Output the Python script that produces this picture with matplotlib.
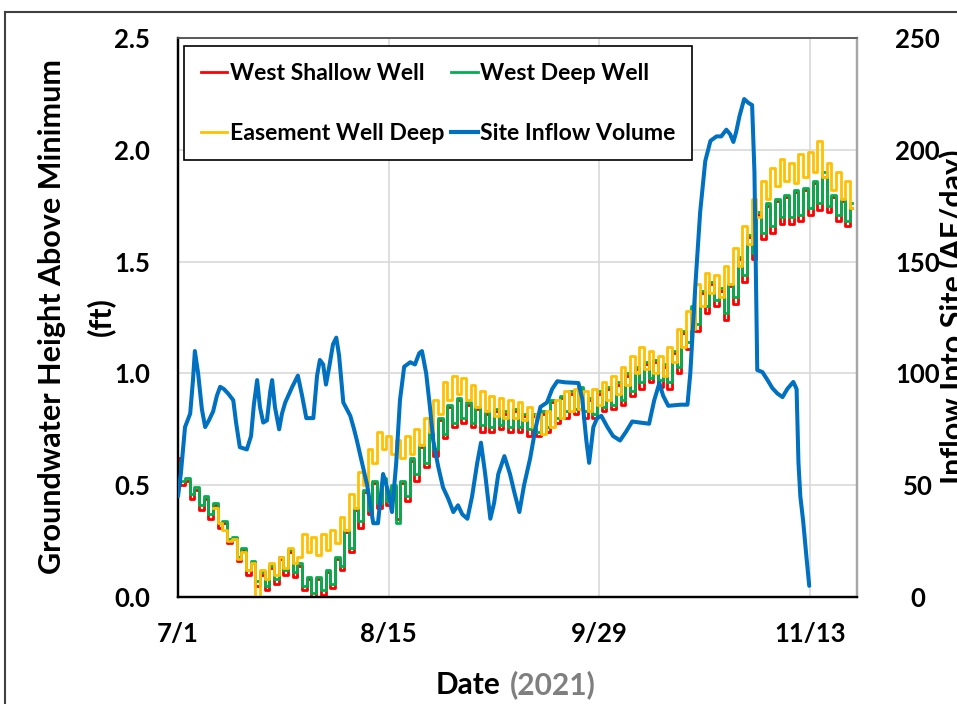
import numpy as np
import pandas as pd
import matplotlib
matplotlib.use("Agg")
import matplotlib.pyplot as plt
from matplotlib.lines import Line2D

plt.rcParams['font.family'] = ['Lato', 'DejaVu Sans']
plt.rcParams['font.weight'] = 'bold'

# ---------------- data ----------------
start_date = pd.Timestamp("2021-07-01")
tick_labels = ["7/1", "8/15", "9/29", "11/13"]
tick_days = [0, 45, 90, 135]

# West Deep Well (ft), daily from 7/1
west_deep = [
    0.60, 0.52, 0.53, 0.46, 0.49, 0.41, 0.45, 0.37, 0.42, 0.33,
    0.34, 0.26, 0.27, 0.18, 0.22, 0.12, 0.16, 0.07, 0.11, 0.05,
    0.14, 0.08, 0.18, 0.12, 0.21, 0.11, 0.15, 0.05, 0.09, 0.02,
    0.09, 0.03, 0.12, 0.06, 0.18, 0.14, 0.30, 0.22, 0.40, 0.34,
    0.48, 0.39, 0.52, 0.42, 0.53, 0.43, 0.50, 0.33, 0.52, 0.45,
    0.62, 0.55, 0.68, 0.60, 0.74, 0.66, 0.80, 0.73, 0.86, 0.78,
    0.89, 0.80, 0.87, 0.78, 0.85, 0.77, 0.83, 0.76, 0.84, 0.77,
    0.83, 0.76, 0.84, 0.76, 0.82, 0.75, 0.82, 0.74, 0.83, 0.76,
    0.88, 0.80, 0.90, 0.83, 0.92, 0.84, 0.94, 0.83, 0.89, 0.82,
    0.92, 0.85, 0.94, 0.86, 0.96, 0.88, 1.00, 0.92, 1.03, 0.96,
    1.05, 0.98, 1.06, 0.97, 1.04, 0.96, 1.10, 1.03, 1.19, 1.14,
    1.30, 1.22, 1.37, 1.30, 1.41, 1.33, 1.38, 1.27, 1.40, 1.34,
    1.52, 1.44, 1.62, 1.54, 1.72, 1.63, 1.76, 1.66, 1.78, 1.70,
    1.80, 1.70, 1.82, 1.71, 1.83, 1.74, 1.86, 1.76, 1.90, 1.75,
    1.80, 1.71, 1.78, 1.68, 1.76,
]

# West Shallow Well (ft), daily from 7/1
west_shallow = [
    0.62, 0.50, 0.52, 0.44, 0.48, 0.39, 0.44, 0.35, 0.41, 0.31,
    0.33, 0.24, 0.26, 0.16, 0.21, 0.10, 0.15, 0.05, 0.10, 0.03,
    0.13, 0.06, 0.17, 0.10, 0.20, 0.09, 0.14, 0.03, 0.08, 0.00,
    0.08, 0.01, 0.11, 0.04, 0.17, 0.12, 0.29, 0.20, 0.39, 0.31,
    0.47, 0.37, 0.51, 0.40, 0.52, 0.41, 0.49, 0.35, 0.51, 0.43,
    0.61, 0.52, 0.67, 0.58, 0.73, 0.63, 0.79, 0.71, 0.85, 0.76,
    0.88, 0.78, 0.86, 0.76, 0.84, 0.74, 0.82, 0.74, 0.83, 0.75,
    0.82, 0.74, 0.83, 0.74, 0.81, 0.72, 0.81, 0.72, 0.82, 0.74,
    0.87, 0.78, 0.89, 0.80, 0.91, 0.82, 0.93, 0.80, 0.88, 0.80,
    0.91, 0.83, 0.93, 0.84, 0.95, 0.86, 0.99, 0.90, 1.02, 0.93,
    1.04, 0.96, 1.05, 0.94, 1.03, 0.93, 1.09, 1.00, 1.18, 1.11,
    1.29, 1.19, 1.36, 1.27, 1.40, 1.30, 1.37, 1.24, 1.39, 1.31,
    1.51, 1.41, 1.61, 1.51, 1.71, 1.60, 1.75, 1.63, 1.77, 1.67,
    1.79, 1.67, 1.81, 1.68, 1.82, 1.71, 1.85, 1.73, 1.88, 1.72,
    1.79, 1.68, 1.77, 1.66, 1.74,
]

# Easement Well Deep (ft), daily from 7/1 (no record for first 8 days)
easement_deep = [np.nan] * 8 + [
    0.40, 0.33, 0.30, 0.25, 0.26, 0.17, 0.20, 0.12, 0.15, 0.00,
    0.12, 0.08, 0.15, 0.10, 0.18, 0.13, 0.22, 0.15, 0.18,
    0.28, 0.20, 0.27, 0.19, 0.28, 0.21, 0.30, 0.24, 0.36, 0.30,
    0.46, 0.40, 0.56, 0.50, 0.66, 0.60, 0.74, 0.66, 0.72, 0.64,
    0.70, 0.62, 0.72, 0.64, 0.75, 0.68, 0.80, 0.74, 0.88, 0.82,
    0.96, 0.88, 0.99, 0.91, 0.98, 0.88, 0.95, 0.85, 0.92, 0.83,
    0.90, 0.81, 0.89, 0.80, 0.88, 0.80, 0.87, 0.79, 0.85, 0.76,
    0.82, 0.73, 0.83, 0.76, 0.88, 0.80, 0.92, 0.83, 0.93, 0.84,
    0.92, 0.83, 0.93, 0.86, 0.96, 0.88, 0.99, 0.91, 1.03, 0.95,
    1.08, 1.00, 1.12, 1.02, 1.10, 1.00, 1.08, 0.99, 1.12, 1.05,
    1.20, 1.12, 1.28, 1.20, 1.40, 1.30, 1.45, 1.36, 1.44, 1.34,
    1.48, 1.40, 1.56, 1.48, 1.66, 1.58, 1.78, 1.70, 1.86, 1.78,
    1.92, 1.84, 1.96, 1.86, 1.94, 1.85, 1.98, 1.88, 1.99, 1.90,
    2.04, 1.88, 1.94, 1.82, 1.90, 1.78, 1.86, 1.74,
]

# Site Inflow Volume (AF/day): day offset from 7/1 and value
inflow_day = [
    0.0, 0.6, 1.5, 2.6, 3.2, 3.6, 4.3, 5.1, 5.8, 6.6, 7.5, 8.3, 9.0, 9.8,
    10.7, 11.8, 12.4, 13.2, 14.7, 15.6, 16.2, 16.9, 17.5, 18.2, 19.0, 19.7,
    20.1, 20.7, 21.6, 22.2, 22.9, 24.4, 25.6, 26.5, 27.4, 28.9, 29.7, 30.3,
    31.0, 31.6, 32.3, 33.1, 33.8, 34.4, 35.3, 36.8, 37.6, 38.2, 39.3, 40.4,
    41.7, 42.7, 43.8, 44.9, 45.7, 46.6, 47.4, 48.3, 49.6, 50.6, 51.5, 52.1,
    53.0, 53.8, 54.5, 55.6, 56.6, 57.7, 58.8, 59.8, 60.7, 61.8, 62.8, 63.9,
    64.7, 65.6, 66.7, 67.5, 68.4, 69.7, 70.9, 71.8, 72.9, 73.9, 75.2, 76.3,
    77.4, 78.8, 79.9, 81.0, 82.7, 85.5, 86.3, 87.2, 87.8, 88.7, 89.5, 90.4,
    91.7, 92.9, 94.4, 95.7, 97.0, 98.7, 100.6, 101.7, 102.8, 103.6, 104.7,
    107.3, 108.8, 109.4, 110.5, 111.5, 112.6, 113.7, 115.0, 116.0, 117.1,
    117.9, 118.6, 119.2, 119.9, 120.9, 121.8, 122.6, 123.1, 123.5, 123.7,
    124.8, 125.9, 126.9, 128.0, 129.1, 130.1, 131.4, 132.1, 132.5, 132.9,
    133.5, 134.2, 134.8,
]
inflow = [
    45, 55, 76, 82, 97, 110, 100, 84, 76, 79, 83, 90, 94, 93,
    91, 88, 78, 67, 66, 72, 86, 97, 85, 78, 79, 92,
    97, 85, 75, 82, 87, 94, 99, 90, 80, 80, 99, 106,
    104, 95, 103, 113, 116, 108, 87, 81, 75, 70, 60, 50,
    33, 33, 55, 47, 38, 60, 88, 103, 105, 104, 109, 110,
    100, 85, 70, 58, 49, 44, 38, 41, 37, 35, 45, 60,
    69, 55, 35, 42, 55, 63, 55, 47, 38, 50, 62, 75,
    85, 87, 93, 96.5, 96, 95.7, 89, 70, 60, 76, 80, 81,
    76, 72, 70, 74, 78.5, 78, 77.5, 88, 95.7, 90, 85.5,
    86, 86, 100, 140, 172, 195, 204, 206, 206, 209,
    207, 203.5, 208, 215, 222.7, 221, 220, 190, 130, 101.5,
    100.6, 97, 93.5, 91, 89.4, 93, 96.2, 93, 60, 45,
    34, 18, 5,
]

# ---------------- figure ----------------
W, H = 957, 704
fig = plt.figure(figsize=(W / 100, H / 100), dpi=100)
ax = fig.add_axes([178 / W, 1 - 597 / H, (857 - 178) / W, (597 - 38) / H])
ax2 = ax.twinx()

well_dates = start_date + pd.to_timedelta(np.arange(len(west_deep)), unit="D")
inflow_dates = start_date + pd.to_timedelta(np.array(inflow_day) * 24, unit="h")

c_red, c_green, c_yel, c_blue = "#FF0000", "#00B050", "#FFC000", "#0070C0"
lw = 2.0
ax.plot(well_dates, west_shallow, color=c_red, lw=lw, drawstyle="steps-mid", zorder=3)
ax.plot(well_dates, west_deep, color=c_green, lw=lw, drawstyle="steps-mid", zorder=4)
ax.plot(well_dates, easement_deep, color=c_yel, lw=lw, drawstyle="steps-mid", zorder=5)
ax2.plot(inflow_dates, inflow, color=c_blue, lw=2.9, solid_joinstyle="round",
         solid_capstyle="round", zorder=6)

x0 = start_date
x1 = start_date + pd.Timedelta(days=145)
ax.set_xlim(x0, x1)
ax.set_ylim(0, 2.5)
ax2.set_ylim(0, 250)

ax.set_yticks([0, 0.5, 1.0, 1.5, 2.0, 2.5])
ax.set_yticklabels(["0.0", "0.5", "1.0", "1.5", "2.0", "2.5"])
ax2.set_yticks([0, 50, 100, 150, 200, 250])
ax2.set_yticklabels(["0", "50", "100", "150", "200", "250"])
ax.set_xticks([start_date + pd.Timedelta(days=d) for d in tick_days])
ax.set_xticklabels(tick_labels)

fs_tick = 18.5
ax.tick_params(axis="y", length=0, pad=20, labelsize=fs_tick)
ax.tick_params(axis="x", length=0, pad=18, labelsize=fs_tick)
ax2.tick_params(axis="y", length=0, pad=43.5, labelsize=fs_tick)
for t in ax2.get_yticklabels():
    t.set_horizontalalignment("center")

ax.grid(True, color="#D9D9D9", lw=1.2)
ax.set_axisbelow(True)

for a in (ax, ax2):
    a.spines["left"].set_color("black")
    a.spines["left"].set_linewidth(1.6)
    a.spines["bottom"].set_color("black")
    a.spines["bottom"].set_linewidth(1.6)
    a.spines["top"].set_color("#595959")
    a.spines["top"].set_linewidth(1.2)
    a.spines["right"].set_color("#A6A6A6")
    a.spines["right"].set_linewidth(1.6)

# axis titles
fs_title = 22
fig.text(52 / W, 1 - 317 / H, "Groundwater Height Above Minimum", rotation=90,
         ha="center", va="center", fontsize=fs_title, fontweight="bold")
fig.text(101 / W, 1 - 317 / H, "(ft)", rotation=90,
         ha="center", va="center", fontsize=fs_title, fontweight="bold")
fig.text(953 / W, 1 - 317 / H, "Inflow Into Site (AF/day)", rotation=90,
         ha="center", va="center", fontsize=fs_title, fontweight="bold")
fig.text(500 / W, 1 - 685 / H, "Date", ha="right", va="center",
         fontsize=21.5, fontweight="bold", color="black")
fig.text(510 / W, 1 - 685 / H, "(2021)", ha="left", va="center",
         fontsize=21.5, fontweight="bold", color="#7F7F7F")

# legend
handles = [
    Line2D([], [], color=c_red, lw=2),
    Line2D([], [], color=c_yel, lw=2),
    Line2D([], [], color=c_green, lw=2),
    Line2D([], [], color=c_blue, lw=3),
]
labels = ["West Shallow Well", "Easement Well Deep", "West Deep Well", "Site Inflow Volume"]
leg = ax2.legend(handles, labels, ncol=2, loc="upper left",
                 bbox_to_anchor=(184 / W, 1 - 46 / H), bbox_transform=fig.transFigure,
                 borderaxespad=0, fancybox=False, framealpha=1, edgecolor="black",
                 prop={"size": 16.6, "weight": "bold"}, handlelength=1.15,
                 handletextpad=0.12, columnspacing=0.3, labelspacing=1.7,
                 borderpad=0.72)
leg.get_frame().set_linewidth(1.2)
leg.set_zorder(10)

# outer chart border
fig.add_artist(Line2D([5 / W, 1.0], [1 - 12 / H, 1 - 12 / H], color="#404040", lw=1.5,
                      transform=fig.transFigure))
fig.add_artist(Line2D([5 / W, 5 / W], [0.0, 1 - 12 / H], color="#404040", lw=1.5,
                      transform=fig.transFigure))

fig.savefig("out.png", dpi=100)
